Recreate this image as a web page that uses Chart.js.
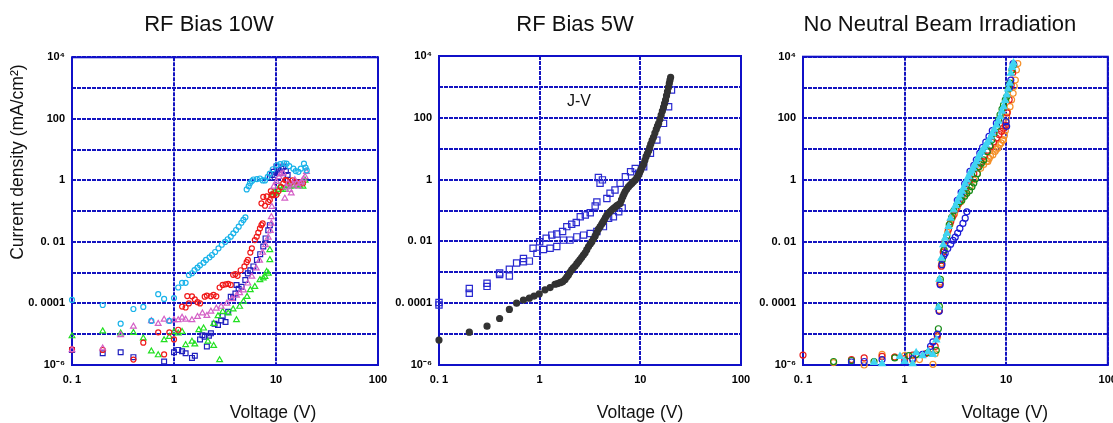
<!DOCTYPE html>
<html>
<head>
<meta charset="utf-8">
<script src="https://cdn.jsdelivr.net/npm/chart.js@4.4.1/dist/chart.umd.min.js"></script>
<style>
  html, body { margin: 0; padding: 0; background: #fff; }
  #wrap { position: relative; width: 1113px; height: 423px; overflow: hidden; }
  #wrap canvas { position: absolute; top: 0; }
</style>
</head>
<body>
<div id="wrap">
  <canvas id="p1" width="395" height="423" style="left:0px;width:395px;height:423px"></canvas>
  <canvas id="p2" width="365" height="423" style="left:390px;width:365px;height:423px"></canvas>
  <canvas id="p3" width="361" height="423" style="left:752px;width:361px;height:423px"></canvas>
</div>
<script>
// axes
const xTickValues = [0.1, 1, 10, 100];
const xTickLabels = ['0. 1', '1', '10', '100'];
const yTickValues = [1e-6, 1e-5, 1e-4, 1e-3, 1e-2, 1e-1, 1, 10, 100, 1e3, 1e4];
const yTickLabels = ['10⁻⁶', '', '0. 0001', '', '0. 01', '', '1', '', '100', '', '10⁴'];
const panelTitles = ['RF Bias 10W', 'RF Bias 5W', 'No Neutral Beam Irradiation'];

// RF Bias 10W  [voltage V, current density mA/cm2]
const rf10Cyan = [[0.1,1.3e-4],[0.2,8.9e-5],[0.3,2.2e-5],[0.4,6.6e-5],[0.5,7.7e-5],[0.6,2.7e-5],[0.7,2.0e-4],[0.8,1.4e-4],[0.9,2.7e-5],[1.0,1.5e-4],[1.1,3.3e-4],[1.2,4.7e-4],[1.3,4.7e-4],[1.4,8.4e-4],[1.5,9.6e-4],[1.59,1.22e-3],[1.7,1.46e-3],[1.8,1.73e-3],[1.95,2.12e-3],[2.06,2.59e-3],[2.23,3.16e-3],[2.36,3.76e-3],[2.53,4.7e-3],[2.73,6.2e-3],[2.94,8.1e-3],[3.17,1.0e-2],[3.36,1.22e-2],[3.6,1.48e-2],[3.82,1.9e-2],[4.06,2.44e-2],[4.31,3.13e-2],[4.58,4.2e-2],[4.79,5.2e-2],[5.01,6.3e-2],
  [5.16,0.51],[5.4,0.65],[5.56,0.8],[5.8,0.95],[6.0,1.07],[6.5,1.1],[6.96,1.15],[7.4,1.0],[7.8,1.0],[8.3,1.3],[8.7,1.66],[9.3,2.3],[10.2,3.1],[11.0,3.4],[12.0,3.6],[12.7,3.5],[13.5,2.9],[14.8,2.4],[15.6,2.0],[16.6,1.9],[17.5,2.4],[18.8,3.5],[19.5,2.6],[20.0,2.1]];
const rf10Mag = [[0.1,3.1e-6],[0.2,3.5e-6],[0.3,9.5e-6],[0.4,1.8e-5],[0.6,2.7e-5],[0.7,2.2e-5],[0.8,3.0e-5],[0.9,2.7e-5],[1.0,2.9e-5],[1.1,2.9e-5],[1.2,3.5e-5],[1.3,3.0e-5],[1.5,2.9e-5],[1.7,3.7e-5],[1.9,4.8e-5],[2.1,4.0e-5],[2.3,5.5e-5],[2.6,6.9e-5],[2.9,7.9e-5],[3.3,1.0e-4],[3.7,1.4e-4],[4.1,1.8e-4],[4.4,2.2e-4],[4.8,2.7e-4],[5.3,4.5e-4],[5.8,7.5e-4],[6.4,1.4e-3],[6.9,2.5e-3],[7.4,4.5e-3],[7.9,8.0e-3],[8.4,1.4e-2],[8.8,2.3e-2],[9.0,4.0e-2],[9.0,6.5e-2],[9.1,0.14],
  [9.5,0.63],[10.1,0.9],[10.7,1.3],[11.2,1.6],[11.8,1.7],[12.2,0.26],[12.6,0.6],[13.1,0.8],[13.6,0.5],[14.1,0.38],[14.7,0.7],[15.3,1.02],[16.0,0.8],[16.6,0.63],[17.3,0.8],[17.9,0.9],[18.6,1.1],[19.3,1.3],[19.9,1.9]];
const rf10Red = [[0.1,3.2e-6],[0.2,3.1e-6],[0.4,1.5e-6],[0.5,5.3e-6],[0.7,1.15e-5],[0.8,2.2e-6],[0.9,1.15e-5],[1.0,6.8e-6],[1.1,1.4e-5],[1.2,7.9e-5],[1.3,7.4e-5],[1.35,1.74e-4],[1.4,1.0e-4],[1.5,1.7e-4],[1.6,1.35e-4],[1.7,1.1e-4],[1.8,1.0e-4],[2.0,1.66e-4],[2.1,1.8e-4],[2.3,1.7e-4],[2.44,1.9e-4],[2.6,1.7e-4],[2.8,3.3e-4],[3.0,4.0e-4],[3.2,4.2e-4],[3.4,4.3e-4],[3.6,4.0e-4],[3.8,8.5e-4],[4.0,9.0e-4],[4.2,7.9e-4],[4.5,1.2e-3],[4.9,1.6e-3],[5.15,2.2e-3],[5.3,2.6e-3],[5.6,4.5e-3],[5.8,6.2e-3],[6.2,1.15e-2],[6.47,1.47e-2],[6.7,2.0e-2],[6.96,2.75e-2],[7.2,3.5e-2],[7.4,4.0e-2],
  [7.2,0.18],[7.5,0.29],[7.8,0.15],[8.1,0.3],[8.4,0.2],[8.7,0.23],[8.9,0.45],[9.1,0.35],[9.4,0.33],[10.1,0.34],[10.6,0.45],[11.2,0.6],[11.8,0.8],[12.3,1.02],[12.7,1.0],[13.7,0.8],[14.5,1.0],[15.5,0.9],[17.0,0.85],[18.4,0.8]];
const rf10Green = [[0.1,8.7e-6],[0.2,1.26e-5],[0.3,1.07e-5],[0.4,1.12e-5],[0.5,7.4e-6],[0.6,2.8e-6],[0.7,2.1e-6],[0.8,6.5e-6],[0.9,8.3e-6],[1.0,1.2e-5],[1.1,1.07e-5],[1.2,1.2e-5],[1.3,4.5e-6],[1.5,5.8e-6],[1.6,4.7e-6],[1.75,1.38e-5],[1.95,1.55e-5],[2.15,5.8e-6],[2.45,4.2e-6],[2.8,1.45e-6],[2.45,2.2e-5],[2.7,3.9e-5],[3.0,5.4e-5],[3.4,4.8e-5],[3.8,6.5e-5],[4.1,2.9e-5],[4.4,7.9e-5],[4.8,1.15e-4],[5.2,1.66e-4],[5.6,2.75e-4],[6.2,3.5e-4],[6.96,5.8e-4],[7.5,6.6e-4],[7.8,7.4e-4],[8.1,1.07e-3],[8.4,9.5e-4],[8.7,2.6e-3],[8.7,5.5e-3],
  [9.1,0.34],[9.6,0.4],[10.1,0.38],[10.5,0.5],[10.9,0.63],[11.6,0.55],[12.4,0.5],[13.0,0.7],[13.7,0.63],[14.8,0.65],[15.9,0.7],[17.0,0.68],[18.4,0.63],[19.3,1.0]];
const rf10Blue = [[0.1,3.1e-6],[0.2,2.4e-6],[0.3,2.6e-6],[0.4,1.8e-6],[0.8,1.3e-6],[1.0,2.6e-6],[1.1,3.1e-6],[1.2,2.8e-6],[1.3,2.4e-6],[1.5,1.7e-6],[1.6,2.0e-6],[1.8,6.8e-6],[1.9,9.3e-6],[2.0,8.3e-6],[2.1,4.0e-6],[2.2,9.0e-6],[2.3,1.07e-5],[2.5,2.2e-5],[2.7,2.0e-5],[2.9,2.8e-5],[3.0,3.9e-5],[3.2,2.5e-5],[3.4,5.4e-5],[3.6,1.66e-4],[3.8,1.5e-4],[4.0,2.1e-4],[4.1,4.0e-4],[4.3,3.0e-4],[4.6,3.5e-4],[5.0,5.8e-4],[5.3,9.5e-4],[5.6,1.2e-3],[6.0,1.6e-3],[6.5,2.6e-3],[7.0,4.0e-3],[7.5,7.1e-3],[7.9,1.3e-2],[8.4,2.4e-2],[8.7,3.5e-2],
  [8.7,1.2],[9.1,1.5],[9.5,1.9],[10.1,2.8],[10.5,2.2],[10.9,1.7],[11.3,2.4],[11.8,2.8],[12.5,2.0],[13.0,1.5]];

// RF Bias 5W
const rf5Black = [[0.1,6.4e-6],[0.2,1.15e-5],[0.3,1.8e-5],[0.4,3.2e-5],[0.5,6.3e-5],[0.59,1.0e-4],[0.69,1.26e-4],[0.79,1.45e-4],[0.88,1.7e-4],[0.99,2.0e-4],[1.13,2.7e-4],[1.27,3.2e-4],[1.42,4.1e-4],[1.5,4.3e-4],[1.59,4.6e-4],[1.65,4.8e-4],[1.7,5.0e-4],[1.79,5.9e-4],[1.86,7.0e-4],[1.93,8.2e-4],[2.0,1.0e-3],[2.08,1.19e-3],[2.16,1.4e-3],[2.25,1.6e-3],[2.34,1.9e-3],[2.43,2.2e-3],[2.52,2.6e-3],[2.62,3.05e-3],[2.72,3.6e-3],[2.83,4.3e-3],[2.94,5.4e-3],[3.06,6.8e-3],[3.18,8.2e-3],[3.3,9.8e-3],[3.43,1.22e-2],[3.56,1.5e-2],[3.7,1.95e-2],[3.84,2.5e-2],[3.99,3.0e-2],[4.14,3.66e-2],[4.25,4.2e-2],[4.37,4.9e-2],[4.5,5.9e-2],[4.65,7.1e-2],[4.83,8.2e-2],[5.02,9.2e-2],[5.22,0.105],[5.42,0.117],[5.63,0.13],[5.85,0.143],[6.08,0.156],[6.31,0.17],[6.5,0.22],[6.7,0.28],[6.88,0.34],[7.07,0.41],[7.35,0.5],[7.64,0.59],[7.95,0.68],[8.25,0.76],[8.57,0.86],[8.9,0.97],[9.25,1.15],[9.6,1.41],[9.85,1.7],[10.1,2.05],[10.45,2.6],[10.8,3.2],[11.1,4.2],[11.4,5.5],[11.75,6.9],[12.1,8.6],[12.4,11],[12.7,14.2],[13.1,18.5],[13.5,23.3],[13.95,32],[14.4,42.4],[14.8,54],[15.2,66],[15.65,90],[16.1,123],[16.55,165],[17.0,218],[17.4,290],[17.8,377],[18.2,520],[18.6,701],[19.0,960],[19.4,1300],[19.7,1650],[20.0,2040]];
const rf5Blue = [[0.1,8.7e-5],[0.1,1.05e-4],[0.2,3.0e-4],[0.2,2.1e-4],[0.3,4.4e-4],[0.3,3.5e-4],[0.4,8.5e-4],[0.4,9.5e-4],[0.5,1.26e-3],[0.5,7.6e-4],[0.59,2.0e-3],[0.69,2.8e-3],[0.69,2.2e-3],[0.79,2.3e-3],[0.86,6.0e-3],[0.94,4.1e-3],[1.0,9.8e-3],[1.09,5.5e-3],[1.16,1.26e-2],[1.27,6.0e-3],[1.32,1.6e-2],[1.48,1.74e-2],[1.48,6.8e-3],[1.69,2.1e-2],[1.72,1.1e-2],[1.86,3.0e-2],[2.0,1.1e-2],[2.08,3.6e-2],[2.31,4.1e-2],[2.34,1.4e-2],[2.53,6.3e-2],[2.73,1.6e-2],[2.84,7.1e-2],[3.18,8.5e-2],[3.18,1.8e-2],[3.56,0.14],[3.7,0.19],[3.7,2.1e-2],[3.83,1.17],[3.98,0.76],[4.2,0.98],[4.3,3.0e-2],[4.65,0.245],[4.84,5.6e-2],[5.0,0.36],[5.4,6.3e-2],[5.6,0.46],[6.1,9.1e-2],[6.3,0.76],[6.6,0.12],[7.1,1.23],[8.0,1.8],[8.9,2.3],[9.6,1.6],[10.8,2.6],[12.6,7.1],[14.6,19],[17.0,66],[19.1,229],[20.4,794]];

// No Neutral Beam Irradiation
const nbCyan = [[0.5,1.2e-6],[0.6,1.1e-6],[0.9,1.9e-6],[1.0,1.3e-6],[1.2,1.1e-6],[1.3,2.5e-6],[1.5,2.0e-6],[1.7,2.7e-6],[1.9,2.2e-6],[2.05,6.5e-6],[2.15,7.5e-5],[2.2,6.0e-4],[2.3,2.9e-3],[2.4,8.0e-3],[2.5,1.3e-2],[2.61,1.86e-2],[2.71,3.1e-2],[2.83,5.8e-2],[3.03,0.107],[3.17,0.15],[3.31,0.2],[3.43,0.26],[3.55,0.33],[3.68,0.43],[3.81,0.56],[3.95,0.75],[4.1,1.0],[4.25,1.3],[4.4,1.66],[4.56,2.0],[4.73,2.4],[4.9,3.0],[5.08,3.9],[5.26,5.0],[5.45,6.5],[5.65,8.0],[5.86,9.4],[6.08,11.5],[6.3,13.7],[6.53,16.5],[6.77,20],[7.03,25],[7.3,32],[7.63,44],[8.0,60],[8.33,80],[8.7,112],[9.05,170],[9.4,240],[9.75,380],[10.1,575],[10.45,900],[10.8,1380],[11.1,2900],[11.4,4500],[11.6,5400],[11.8,6200]];
const nbBlue = [[0.3,1.25e-6],[0.4,1.3e-6],[0.6,1.5e-6],[1.0,1.2e-6],[1.2,1.6e-6],[1.5,2.2e-6],[1.8,4.0e-6],[1.9,5.6e-6],[2.1,1.0e-5],[2.19,5.5e-5],[2.24,4.0e-4],[2.33,1.8e-3],[2.43,3.5e-3],[2.51,4.2e-3],[2.66,6.0e-3],[2.84,8.3e-3],[3.0,1.1e-2],[3.15,1.4e-2],[3.33,1.9e-2],[3.5,2.7e-2],[3.75,3.9e-2],[3.95,5.8e-2],[4.1,9.3e-2],
  [3.3,0.22],[3.6,0.4],[3.9,0.75],[4.4,1.9],[4.8,3.0],[5.08,4.5],[5.5,7.5],[5.86,11.5],[6.3,17],[6.77,26],[7.3,40],[8.0,70],[9.95,78],[10.1,55],[10.8,1000],[11.1,1740],[11.7,6000]];
const nbGreen = [[0.2,1.3e-6],[0.3,1.4e-6],[0.5,1.3e-6],[0.8,1.7e-6],[1.1,2.0e-6],[1.3,2.2e-6],[1.7,2.5e-6],[2.05,3.0e-6],[2.15,1.5e-5],[2.2,8.0e-5],[2.25,6.0e-4],[2.35,2.6e-3],[2.45,5.4e-3],[2.6,1.5e-2],[2.75,3.5e-2],[2.9,6.0e-2],[3.05,0.1],[3.27,0.155],[3.5,0.2],[3.66,0.22],[3.9,0.3],[4.1,0.37],[4.35,0.45],[4.6,0.6],[4.8,0.8],[4.98,1.1],[5.2,1.6],[5.4,2.7],[5.7,3.5],[6.0,4.5],[6.5,8.3],[6.9,13],[7.2,20],[7.6,33],[8.1,54],[8.4,90],[8.7,130],[9.1,200],[9.4,270],[9.8,400],[10.1,500],[10.5,900],[10.9,1380],[11.4,3700],[11.8,5500]];
const nbRed = [[0.1,2.1e-6],[0.3,1.5e-6],[0.4,1.7e-6],[0.6,1.9e-6],[0.8,1.8e-6],[1.0,1.6e-6],[1.2,2.1e-6],[1.6,2.3e-6],[1.8,3.2e-6],[2.0,4.0e-6],[2.1,9.0e-6],[2.19,5.7e-5],[2.23,4.4e-4],[2.3,1.6e-3],[2.4,4.6e-3],[2.55,1.1e-2],[2.7,2.5e-2],[2.85,4.5e-2],[3.0,7.0e-2],[3.2,0.11],[3.4,0.17],[3.6,0.26],[3.8,0.37],[4.0,0.55],[4.4,1.0],[4.8,1.6],[5.2,2.5],[5.6,3.8],[6.1,6.0],[6.6,9.3],[7.0,12],[7.5,17],[8.0,23],[8.5,30],[9.0,38],[9.4,48],[9.8,60],[10.2,150],[10.7,400],[11.2,1200],[11.6,3000],[11.9,5500]];
const nbOrange = [[0.2,1.2e-6],[0.4,1.0e-6],[0.6,2.2e-6],[0.8,1.8e-6],[1.0,2.0e-6],[1.2,1.4e-6],[1.4,1.5e-6],[1.9,1.05e-6],[2.0,2.3e-6],[2.1,8.0e-6],[2.19,6.0e-5],[2.24,5.0e-4],[2.32,2.0e-3],[2.42,5.0e-3],[2.5,1.0e-2],[2.65,2.0e-2],[2.8,3.7e-2],[2.95,6.0e-2],[3.1,8.0e-2],[3.3,0.13],[3.6,0.2],[4.0,0.35],[4.4,0.6],[4.8,1.0],[5.2,1.6],[5.6,2.4],[6.0,3.2],[6.4,4.0],[6.6,4.0],[6.8,5.0],[7.0,6.0],[7.4,6.6],[7.8,8.5],[8.0,10],[8.3,11],[8.6,14],[8.9,16],[9.2,20],[9.4,20],[9.6,28],[9.8,40],[9.9,55],[10.0,75],[10.1,110],[10.3,165],[10.9,240],[11.3,400],[11.7,650],[12.0,1100],[12.3,1740],[12.6,3700],[13.0,6000]];

const sansFamily = "'Liberation Sans', Arial, sans-serif";
const tickFont = { family: sansFamily, size: 11, weight: 'bold' };
const titleFont = "22px " + sansFamily;
const axisTitleFont = "17.5px " + sansFamily;
const gridColor = '#1414c0';

function series(pairs, color, style, radius, filled) {
  return {
    data: pairs.map(p => ({ x: p[0], y: p[1] })),
    pointStyle: style,
    pointRadius: radius,
    borderWidth: 1.2,
    borderColor: color,
    backgroundColor: filled ? color : 'rgba(255,255,255,0)',
    showLine: false,
    clip: false
  };
}

// text placed relative to the centre of the plot area
function captions(items) {
  return {
    id: 'captions',
    afterDraw(chart) {
      const a = chart.chartArea, ctx = chart.ctx;
      const cx = (a.left + a.right) / 2, cy = (a.top + a.bottom) / 2;
      ctx.save();
      ctx.fillStyle = '#111';
      ctx.textAlign = 'center';
      ctx.textBaseline = 'middle';
      items.forEach(it => {
        ctx.save();
        ctx.font = it.font;
        ctx.translate(cx + it.dx, cy + it.dy);
        if (it.rotate) ctx.rotate(-Math.PI / 2);
        ctx.fillText(it.text, 0, 0);
        ctx.restore();
      });
      ctx.restore();
    }
  };
}

const frame = {
  id: 'frame',
  beforeDatasetsDraw(chart) {
    const a = chart.chartArea, ctx = chart.ctx;
    ctx.save();
    ctx.strokeStyle = '#1010c8';
    ctx.lineWidth = 2;
    ctx.strokeRect(a.left, a.top, a.right - a.left, a.bottom - a.top);
    ctx.restore();
  }
};

function makeChart(id, datasets, p, items) {
  return new Chart(document.getElementById(id), {
    type: 'scatter',
    data: { datasets: datasets },
    plugins: [frame, captions(items)],
    options: {
      responsive: false,
      animation: false,
      events: [],
      layout: { padding: { left: 0, right: p.padR, top: p.top, bottom: 0 } },
      plugins: {
        legend: { display: false },
        tooltip: { enabled: false }
      },
      scales: {
        x: {
          type: 'logarithmic', min: 0.1, max: 100,
          afterBuildTicks: s => { s.ticks = xTickValues.map(v => ({ value: v })); },
          afterFit: s => { s.height = 58; s.paddingLeft = 0; s.paddingRight = 0; },
          ticks: { autoSkip: false, maxRotation: 0, padding: 8, color: '#000', font: tickFont,
                   callback: (v, i) => xTickLabels[i] },
          grid: { color: gridColor, lineWidth: 2, drawTicks: false },
          border: { display: false, dash: [4, 1] }
        },
        y: {
          type: 'logarithmic', min: 1e-6, max: 1e4,
          afterBuildTicks: s => { s.ticks = yTickValues.map(v => ({ value: v })); },
          afterFit: s => { s.width = p.axisW; s.paddingTop = 0; s.paddingBottom = 0; },
          ticks: { autoSkip: false, padding: 7, color: '#000', font: tickFont,
                   callback: (v, i) => yTickLabels[i] },
          grid: { color: gridColor, lineWidth: 2, drawTicks: false },
          border: { display: false, dash: [4, 1] }
        }
      }
    }
  });
}

makeChart('p1', [
  series(rf10Cyan, '#19b3ea', 'circle', 2.5, false),
  series(rf10Mag, '#d460c6', 'triangle', 3.3, false),
  series(rf10Red, '#f01818', 'circle', 2.5, false),
  series(rf10Green, '#22e022', 'triangle', 3.3, false),
  series(rf10Blue, '#1e1ebe', 'rect', 3.4, false)
], { padR: 17, axisW: 72, top: 57.3 }, [
  { text: panelTitles[0], dx: -16, dy: -186, font: titleFont },
  { text: 'Voltage (V)', dx: 48, dy: 202, font: axisTitleFont },
  { text: 'Current density (mA/cm²)', dx: -206.5, dy: -49, rotate: true, font: axisTitleFont }
]);

makeChart('p2', [
  series(rf5Black, '#333333', 'circle', 3, true),
  series(rf5Blue, '#2a2ad0', 'rect', 4.4, false)
], { padR: 14, axisW: 49, top: 56 }, [
  { text: panelTitles[1], dx: -15, dy: -185.5, font: titleFont },
  { text: 'Voltage (V)', dx: 50, dy: 202.5, font: axisTitleFont },
  { text: 'J-V', dx: -11, dy: -108.5, font: '16px ' + sansFamily }
]);

makeChart('p3', [
  series(nbCyan, '#3fd4f2', 'triangle', 3.8, true),
  series(nbBlue, '#1a1ad6', 'circle', 3, false),
  series(nbGreen, '#168a16', 'circle', 3, false),
  series(nbRed, '#e81c1c', 'circle', 3, false),
  series(nbOrange, '#f59028', 'circle', 3, false)
], { padR: 5, axisW: 51, top: 56.7 }, [
  { text: panelTitles[2], dx: -15.5, dy: -185.9, font: titleFont },
  { text: 'Voltage (V)', dx: 49.5, dy: 202, font: axisTitleFont }
]);
</script>
</body>
</html>
